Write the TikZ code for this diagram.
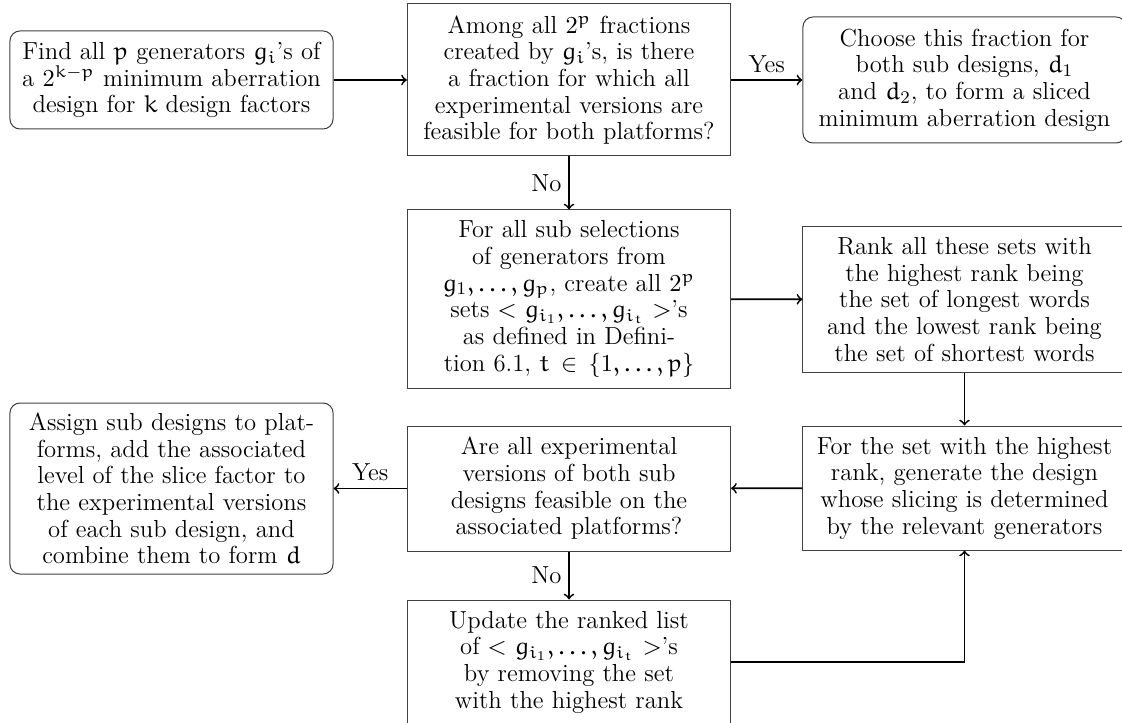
\documentclass[tikz,border=0pt]{standalone}
\DeclareSymbolFont{letters}{U}{eur}{m}{n}
\SetSymbolFont{letters}{bold}{U}{eur}{b}{n}
\usetikzlibrary{arrows}
\newcommand{\boxfont}{\fontsize{11.1pt}{12pt}\selectfont}
\tikzset{
  box/.style={draw=black!75, line width=0.45pt, align=center, text width=143pt,
    minimum width=145.35pt, inner xsep=1.2pt, inner ysep=2pt, font=\boxfont},
  rbox/.style={box, rounded corners=4.5pt},
  conn/.style={->, thick, black},
  lbl/.style={font=\boxfont, inner sep=3pt}
}
\begin{document}
\begin{tikzpicture}[x=0.45pt,y=-0.45pt]
\useasboundingbox (0,0) rectangle (1122,723);
\node[rbox, minimum height=44.1pt] (A) at (171.5,80) {Find all $p$ generators $g_i$'s of\\ a $2^{k-p}$ minimum aberration\\ design for $k$ design factors};
\node[box, minimum height=68.4pt] (B) at (569,80) {Among all $2^p$ fractions\\ created by $g_i$'s, is there\\ a fraction for which all\\ experimental versions are\\ feasible for both platforms?};
\node[rbox, minimum height=56.7pt] (C) at (964.5,80) {Choose this fraction for\\ both sub designs, $d_1$\\ and $d_2$, to form a sliced\\ minimum aberration design};
\node[box, minimum height=80.1pt] (D) at (569,299) {For all sub selections\\ of generators from\\ $g_1,\ldots,g_p$, create all $2^p$\\ sets $<$ $g_{i_1},\ldots,g_{i_t}$ $>$'s\\ as defined in Defini-\\tion 6.1, $t\in\{1,\ldots,p\}$};
\node[box, minimum height=65.25pt] (E) at (964.5,299.5) {Rank all these sets with\\ the highest rank being\\ the set of longest words\\ and the lowest rank being\\ the set of shortest words};
\node[box, minimum height=55.8pt] (F) at (964.5,488) {For the set with the highest\\ rank, generate the design\\ whose slicing is determined\\ by the relevant generators};
\node[box, minimum height=56.25pt] (G) at (569,488.5) {Are all experimental\\ versions of both sub\\ designs feasible on the\\ associated platforms?};
\node[rbox, minimum height=76.95pt] (H) at (171.5,488.5) {Assign sub designs to plat-\\forms, add the associated\\ level of the slice factor to\\ the experimental versions\\ of each sub design, and\\ combine them to form $d$};
\node[box, minimum height=55.8pt] (I) at (569,662) {Update the ranked list\\ of $<$ $g_{i_1},\ldots,g_{i_t}$ $>$'s\\ by removing the set\\ with the highest rank};
\draw[conn] (A) -- (B);
\draw[conn] (B) -- node[lbl, above] (yes1) {Yes} (C);
\draw[conn] (B) -- node[lbl, left] (no1) {No} (D);
\draw[conn] (D) -- (E);
\draw[conn] (E) -- (F);
\draw[conn] (F) -- (G);
\draw[conn] (G) -- node[lbl, above] (yes2) {Yes} (H);
\draw[conn] (G) -- node[lbl, left] (no2) {No} (I);
\draw[conn] (I.east) -| (F.south);
\end{tikzpicture}
\end{document}
